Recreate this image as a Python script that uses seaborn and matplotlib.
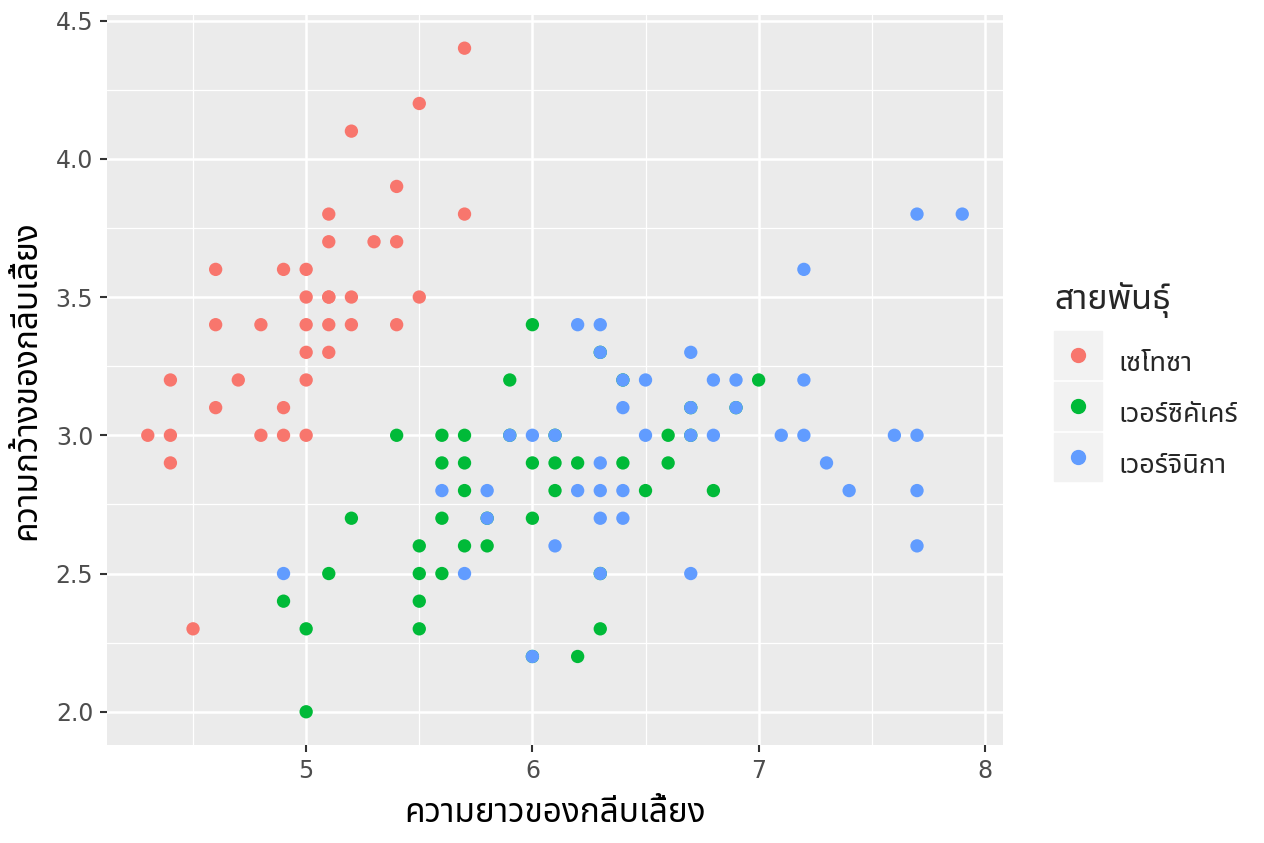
import matplotlib
matplotlib.use("Agg")
import matplotlib.pyplot as plt
from matplotlib.lines import Line2D
from matplotlib.legend_handler import HandlerTuple
from matplotlib.ticker import MultipleLocator
import pandas as pd
import seaborn as sns

# points (sepal length, sepal width) per species
setosa_x = [5.1, 4.9, 4.7, 4.6, 5.0, 5.4, 4.6, 5.0, 4.4, 4.9, 5.4, 4.8, 4.8, 4.3,
            5.7, 5.7, 5.1, 5.4, 5.1, 4.6, 5.1, 5.0, 5.2, 5.2, 5.2, 5.5, 5.0, 5.5,
            4.9, 4.4, 5.0, 4.5, 4.4, 5.1, 5.3, 5.0, 5.1]
setosa_y = [3.5, 3.0, 3.2, 3.1, 3.6, 3.9, 3.4, 3.4, 2.9, 3.1, 3.7, 3.4, 3.0, 3.0,
            4.4, 3.8, 3.8, 3.4, 3.7, 3.6, 3.3, 3.0, 3.5, 3.4, 4.1, 4.2, 3.2, 3.5,
            3.6, 3.0, 3.5, 2.3, 3.2, 3.4, 3.7, 3.3, 3.5]

versi_x = [7.0, 6.4, 6.9, 5.5, 6.5, 5.7, 6.3, 4.9, 6.6, 5.2, 5.0, 5.9, 6.0, 6.1,
           5.6, 6.7, 5.6, 5.8, 6.2, 5.6, 5.9, 6.1, 6.3, 6.4, 6.6, 6.8, 6.7, 6.0,
           5.7, 5.5, 6.0, 5.4, 6.0, 6.3, 5.5, 5.5, 6.1, 5.8, 5.0, 5.6, 5.7, 5.7,
           6.2, 5.1]
versi_y = [3.2, 3.2, 3.1, 2.3, 2.8, 2.8, 3.3, 2.4, 2.9, 2.7, 2.0, 3.0, 2.2, 2.9,
           2.9, 3.1, 3.0, 2.7, 2.2, 2.5, 3.2, 2.8, 2.5, 2.9, 3.0, 2.8, 3.0, 2.9,
           2.6, 2.4, 2.7, 3.0, 3.4, 2.3, 2.5, 2.6, 3.0, 2.6, 2.3, 2.7, 3.0, 2.9,
           2.9, 2.5]

virg_x = [6.3, 5.8, 7.1, 6.3, 6.5, 7.6, 4.9, 7.3, 6.7, 7.2, 6.5, 6.4, 6.8, 5.7,
          5.8, 6.4, 7.7, 7.7, 6.0, 6.9, 5.6, 7.7, 6.3, 6.7, 7.2, 6.2, 6.1, 6.4,
          7.2, 7.4, 7.9, 6.3, 6.1, 7.7, 6.3, 6.4, 6.0, 6.9, 6.7, 6.8, 6.7, 6.3,
          6.2, 5.9]
virg_y = [3.3, 2.7, 3.0, 2.9, 3.0, 3.0, 2.5, 2.9, 2.5, 3.6, 3.2, 2.7, 3.0, 2.5,
          2.8, 3.2, 3.8, 2.6, 2.2, 3.2, 2.8, 2.8, 2.7, 3.3, 3.2, 2.8, 3.0, 2.8,
          3.0, 2.8, 3.8, 2.8, 2.6, 3.0, 3.4, 3.1, 3.0, 3.1, 3.1, 3.2, 3.0, 2.5,
          3.4, 3.0]

species = ["เซโทซา", "เวอร์ซิคัเคร์", "เวอร์จินิกา"]
colors = ["#F8766D", "#00BA38", "#619CFF"]
x_label = "ความยาวของกลีบเลี้ยง"
y_label = "ความกว้างของกลีบเลี้ยง"
legend_title = "สายพันธุ์"

df = pd.concat([
    pd.DataFrame({"x": setosa_x, "y": setosa_y, "sp": species[0]}),
    pd.DataFrame({"x": versi_x, "y": versi_y, "sp": species[1]}),
    pd.DataFrame({"x": virg_x, "y": virg_y, "sp": species[2]}),
], ignore_index=True)

sns.set_theme(style="darkgrid")
thai = ["Noto Sans Thai", "Sarabun", "Kanit", "DejaVu Sans"]
plt.rcParams["font.family"] = thai

fig = plt.figure(figsize=(12.64, 8.43), dpi=100)
ax = fig.add_axes([0.0847, 0.1163, 0.7088, 0.8659])
ax.set_facecolor("#EBEBEB")

sns.scatterplot(data=df, x="x", y="y", hue="sp", hue_order=species,
                palette=colors, s=92, linewidth=0, alpha=1, ax=ax, legend=False)

# ggplot style 5% padding
xmin, xmax = min(df.x), max(df.x)
ymin, ymax = min(df.y), max(df.y)
xlim = (xmin - 0.05 * (xmax - xmin), xmax + 0.05 * (xmax - xmin))
ylim = (ymin - 0.05 * (ymax - ymin), ymax + 0.05 * (ymax - ymin))

ax.xaxis.set_major_locator(MultipleLocator(1))
ax.xaxis.set_minor_locator(MultipleLocator(0.5))
ax.yaxis.set_major_locator(MultipleLocator(0.5))
ax.yaxis.set_minor_locator(MultipleLocator(0.25))
ax.set_xlim(xlim)
ax.set_ylim(ylim)
ax.grid(which="major", color="white", linewidth=1.8)
ax.grid(which="minor", color="white", linewidth=0.9)
ax.set_axisbelow(True)
for s in ax.spines.values():
    s.set_visible(False)
ax.tick_params(which="major", length=5, width=1.5, color="#333333",
               labelsize=17, labelcolor="#4D4D4D", pad=5, bottom=True, left=True)
ax.tick_params(which="minor", length=0)
xt = ax.get_xticks()
yt = ax.get_yticks()
ax.set_xticks(xt)
ax.set_yticks(yt)
ax.set_xticklabels([f"{t:g}" for t in xt], family="DejaVu Sans")
ax.set_yticklabels([f"{t:.1f}" for t in yt], family="DejaVu Sans")
ax.set_xlim(xlim)
ax.set_ylim(ylim)

ax.set_xlabel(x_label, fontsize=24, color="black", labelpad=10)
ax.set_ylabel(y_label, fontsize=24, color="black", labelpad=9)

handles = [(Line2D([], [], marker="s", ls="", markersize=34, color="#F2F2F2"),
            Line2D([], [], marker="o", ls="", markersize=10, color=c)) for c in colors]
leg = ax.legend(handles, species, title=legend_title,
                handler_map={tuple: HandlerTuple(ndivide=1)},
                loc="upper left", bbox_to_anchor=(0.834, 0.666),
                bbox_transform=fig.transFigure, frameon=False, fontsize=19.5,
                title_fontsize=24.5, handlelength=1.744, handleheight=2.306,
                labelspacing=0.14, handletextpad=0.63, borderaxespad=0,
                borderpad=0)
leg._legend_box.align = "left"
leg._legend_box.sep = 15  # gap between title and keys

fig.savefig("out.png", dpi=100)
